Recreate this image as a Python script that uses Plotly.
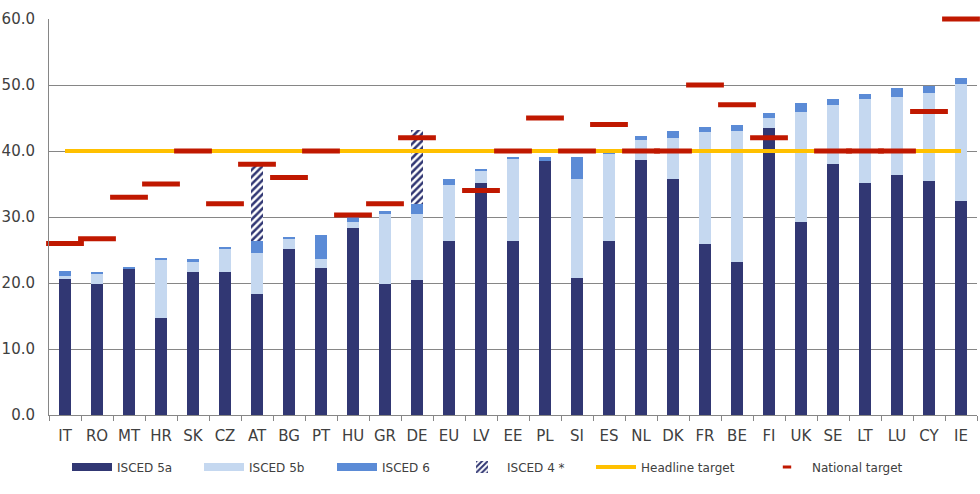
import plotly.graph_objects as go

countries = ["IT", "RO", "MT", "HR", "SK", "CZ", "AT", "BG", "PT", "HU", "GR", "DE", "EU", "LV", "EE",
             "PL", "SI", "ES", "NL", "DK", "FR", "BE", "FI", "UK", "SE", "LT", "LU", "CY", "IE"]

isced_5a = [20.7, 19.9, 22.2, 14.7, 21.7, 21.7, 18.4, 25.2, 22.3, 28.4, 19.9, 20.5, 26.3, 35.2, 26.4,
            38.5, 20.7, 26.3, 38.7, 35.8, 25.9, 23.2, 43.5, 29.3, 38.1, 35.2, 36.4, 35.5, 32.5]
isced_5b = [0.3, 1.6, 0.0, 8.8, 1.5, 3.4, 6.2, 1.5, 1.4, 0.9, 10.6, 10.0, 8.6, 1.8, 12.4,
            0.0, 15.0, 13.3, 2.9, 6.2, 17.0, 19.9, 1.5, 16.65, 8.8, 12.75, 11.8, 13.3, 17.7]
isced_6 = [0.75, 0.2, 0.2, 0.2, 0.5, 0.4, 1.7, 0.2, 3.5, 0.7, 0.45, 1.4, 0.9, 0.2, 0.3,
           0.6, 3.45, 0.15, 0.7, 1.1, 0.8, 0.9, 0.8, 1.25, 1.05, 0.75, 1.4, 1.1, 0.9]
isced_4 = [None, None, None, None, None, None, 11.5, None, None, None, None, 11.3, None, None, None,
           None, None, None, None, None, None, None, None, None, None, None, None, None, None]
headline_target = [40] * len(countries)
national_target = [26, 26.7, 33, 35, 40, 32, 38, 36, 40, 30.3, 32, 42, None, 34, 40,
                   45, 40, 44, 40, 40, 50, 47, 42, None, 40, 40, 40, 46, 60]

C_5A = "#313773"
C_5B = "#C5D8F0"
C_6 = "#5B8BD6"
C_HEAD = "#FFC000"
C_NAT = "#C01800"
GRID = "#868686"
TXT = "#404040"

fig = go.Figure()

fig.add_trace(go.Bar(x=countries, y=isced_5a, marker=dict(color=C_5A, line=dict(width=0)),
                     showlegend=False, name="ISCED 5a"))
fig.add_trace(go.Bar(x=countries, y=isced_5b, marker=dict(color=C_5B, line=dict(width=0)),
                     showlegend=False, name="ISCED 5b"))
fig.add_trace(go.Bar(x=countries, y=isced_6, marker=dict(color=C_6, line=dict(width=0)),
                     showlegend=False, name="ISCED 6"))
fig.add_trace(go.Bar(x=countries, y=isced_4, name="ISCED 4 *", legend="legend4",
                     marker=dict(color="white", line=dict(width=0),
                                 pattern=dict(shape="/", fgcolor=C_5A, bgcolor="white",
                                              fgopacity=1, size=5, solidity=0.5))))

fig.add_trace(go.Scatter(x=countries, y=headline_target, mode="lines", name="Headline target",
                         line=dict(color=C_HEAD, width=4), legend="legend5"))
fig.add_trace(go.Scatter(x=countries, y=national_target, mode="markers", name="National target",
                         marker=dict(symbol="line-ew", size=27, color=C_NAT,
                                     line=dict(width=5, color=C_NAT)),
                         showlegend=False, cliponaxis=False))

# legend-only entries
fig.add_trace(go.Scatter(x=[None], y=[None], mode="lines", name="ISCED 5a",
                         line=dict(color=C_5A, width=8), legend="legend"))
fig.add_trace(go.Scatter(x=[None], y=[None], mode="lines", name="ISCED 5b",
                         line=dict(color=C_5B, width=8), legend="legend2"))
fig.add_trace(go.Scatter(x=[None], y=[None], mode="lines", name="ISCED 6",
                         line=dict(color=C_6, width=8), legend="legend3"))
fig.add_trace(go.Scatter(x=[None], y=[None], mode="markers", name="National target",
                         marker=dict(symbol="line-ew", size=6, color=C_NAT,
                                     line=dict(width=3, color=C_NAT)), legend="legend6"))

L = 49
W = 928


def lg(px):
    return dict(orientation="h", x=(px - L) / W, xanchor="left", y=-0.131, yanchor="middle",
                font=dict(family="DejaVu Sans", size=12, color=TXT), itemwidth=40,
                bgcolor="rgba(0,0,0,0)", borderwidth=0)


fig.update_layout(
    width=980, height=494,
    margin=dict(l=49, r=3, t=19, b=79, autoexpand=False),
    paper_bgcolor="white", plot_bgcolor="white",
    barmode="stack", bargap=0.6,
    font=dict(family="DejaVu Sans", size=15, color=TXT),
    legend=lg(67), legend2=lg(199), legend3=lg(332), legend4=lg(457),
    legend5=lg(591), legend6=lg(762),
)
fig.update_xaxes(range=[-0.5, len(countries) - 0.5], showgrid=False, showline=True,
                 linecolor=GRID, linewidth=1, automargin=False, tickangle=0,
                 ticks="outside", tickson="boundaries", ticklen=5, tickcolor=GRID,
                 tickfont=dict(size=15, color=TXT), ticklabelstandoff=7)
fig.update_yaxes(range=[0, 60], dtick=10, tickformat=".1f", showgrid=True, gridcolor=GRID,
                 gridwidth=1, showline=True, linecolor=GRID, linewidth=1, zeroline=False,
                 automargin=False, ticks="", tickfont=dict(size=15, color=TXT),
                 ticklabelstandoff=10)

fig.write_html("out.html", config={"displayModeBar": False},
               post_script="document.body.style.margin='0';")
